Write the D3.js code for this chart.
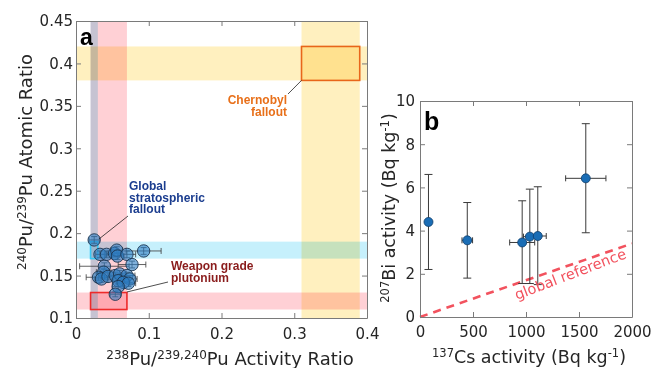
<!DOCTYPE html>
<html lang="en">
<head>
    <meta charset="UTF-8">
    <title>Pu ratios and Bi-207 activity</title>
    <style>
        body { margin: 0; background: #fff; }
        svg text { font-family: "DejaVu Sans", Verdana, sans-serif; fill: #262626; }
        .note { font-family: "Liberation Sans", Arial, sans-serif; font-weight: bold; font-size: 12px; }
        .band { mix-blend-mode: multiply; }
    </style>
</head>
<body>
    <script src="https://cdn.jsdelivr.net/npm/d3@7"></script>
    <script>
        // panel a: Pu isotope ratios of the samples
        const puActivity = [0.025, 0.033, 0.042, 0.053, 0.056, 0.057, 0.070, 0.093, 0.039, 0.077, 0.038, 0.031,
                            0.035, 0.044, 0.054, 0.060, 0.070, 0.074, 0.058, 0.065, 0.072, 0.058, 0.054];
        const puActivityErr = [0.007, 0.006, 0.009, 0.010, 0.008, 0.009, 0.012, 0.024, 0.034, 0.019, 0.010, 0.017,
                               0.009, 0.010, 0.010, 0.009, 0.011, 0.010, 0.008, 0.009, 0.010, 0.008, 0.007];
        const puAtomic = [0.192, 0.175, 0.175, 0.176, 0.180, 0.173, 0.175, 0.179, 0.161, 0.163, 0.154, 0.148,
                          0.146, 0.149, 0.150, 0.152, 0.150, 0.146, 0.144, 0.142, 0.141, 0.137, 0.128];
        const puAtomicErr = [0.004, 0.004, 0.004, 0.004, 0.004, 0.004, 0.004, 0.004, 0.004, 0.004, 0.004, 0.004,
                             0.004, 0.004, 0.004, 0.004, 0.004, 0.004, 0.004, 0.004, 0.004, 0.004, 0.003];

        // reference source ranges [min, max]
        const sourceNames = ["Global stratospheric fallout", "Weapon grade plutonium", "Chernobyl fallout"];
        const sourceActivity = [[0.02, 0.03], [0.02, 0.07], [0.31, 0.39]];
        const sourceAtomic = [[0.17, 0.19], [0.11, 0.13], [0.38, 0.42]];

        // panel b: 207Bi vs 137Cs
        const csActivity = [80, 446, 964, 1036, 1111, 1564];
        const csErr = [15, 50, 118, 60, 80, 190];
        const biActivity = [4.4, 3.55, 3.45, 3.72, 3.75, 6.42];
        const biLow = [2.2, 1.8, 1.55, 1.55, 1.5, 3.9];
        const biHigh = [6.6, 5.3, 5.38, 5.92, 6.03, 8.95];
        const globalRef = [[0, 0], [2000, 3.4]];

        const xTicksA = [0, 0.1, 0.2, 0.3, 0.4];
        const yTicksA = [0.1, 0.15, 0.2, 0.25, 0.3, 0.35, 0.4, 0.45];
        const xTicksB = [0, 500, 1000, 1500, 2000];
        const yTicksB = [0, 2, 4, 6, 8, 10];
    </script>
    <script>
        const width = 654, height = 368;
        const svg = d3.select("body").append("svg")
            .attr("width", width)
            .attr("height", height);

        const axisColor = "#7a7a7a";

        function boxAxes(g, x, y, xTicks, yTicks, xFmt, yFmt, xPad, yPad) {
            const [x0, x1] = x.range();
            const [y0, y1] = y.range();
            const style = a => a.call(s => s.select(".domain").attr("stroke", axisColor))
                .call(s => s.selectAll(".tick line").attr("stroke", axisColor))
                .call(s => s.selectAll(".tick text").attr("font-size", 15).attr("fill", "#262626")
                    .style("font-family", "'DejaVu Sans', Verdana, sans-serif"));
            g.append("g").attr("transform", `translate(0,${y0})`)
                .call(d3.axisBottom(x).tickValues(xTicks).tickFormat(xFmt).tickSizeInner(-5).tickSizeOuter(0).tickPadding(xPad))
                .call(style);
            g.append("g").attr("transform", `translate(0,${y1})`)
                .call(d3.axisTop(x).tickValues(xTicks).tickFormat("").tickSizeInner(-5).tickSizeOuter(0))
                .call(style);
            g.append("g").attr("transform", `translate(${x0},0)`)
                .call(d3.axisLeft(y).tickValues(yTicks).tickFormat(yFmt).tickSizeInner(-5).tickSizeOuter(0).tickPadding(yPad))
                .call(style);
            g.append("g").attr("transform", `translate(${x1},0)`)
                .call(d3.axisRight(y).tickValues(yTicks).tickFormat("").tickSizeInner(-5).tickSizeOuter(0))
                .call(style);
        }

        // text with superscript parts: parts = [[text, isSup], ...]
        function supText(parts, attrs, size, supSize) {
            const t = svg.append("text").attr("font-size", size);
            Object.entries(attrs).forEach(([k, v]) => t.attr(k, v));
            let shift = 0;
            parts.forEach(([s, sup]) => {
                const target = sup ? -6.5 : 0;
                t.append("tspan")
                    .attr("font-size", sup ? supSize : size)
                    .attr("dy", target - shift)
                    .text(s);
                shift = target;
            });
            return t;
        }

        // ---------- panel a ----------
        const xa = d3.scaleLinear().domain([0, 0.4]).range([76, 367]);
        const ya = d3.scaleLinear().domain([0.1, 0.45]).range([318, 21]);
        const ga = svg.append("g");

        const bandColors = ["#c6f0fc", "#ffd0d5", "#fff0bf"];
        const outlineColors = ["#36c8f5", "#ee2a2a", "#e8661a"];

        const bands = ga.append("g");
        sourceActivity.forEach((r, i) => {
            bands.append("rect").attr("class", "band")
                .attr("x", xa(r[0])).attr("width", xa(r[1]) - xa(r[0]))
                .attr("y", ya(0.45)).attr("height", ya(0.1) - ya(0.45))
                .attr("fill", bandColors[i]);
        });
        sourceAtomic.forEach((r, i) => {
            bands.append("rect").attr("class", "band")
                .attr("x", xa(0)).attr("width", xa(0.4) - xa(0))
                .attr("y", ya(r[1])).attr("height", ya(r[0]) - ya(r[1]))
                .attr("fill", bandColors[i]);
        });
        sourceNames.forEach((n, i) => {
            ga.append("rect")
                .attr("x", xa(sourceActivity[i][0])).attr("width", xa(sourceActivity[i][1]) - xa(sourceActivity[i][0]))
                .attr("y", ya(sourceAtomic[i][1])).attr("height", ya(sourceAtomic[i][0]) - ya(sourceAtomic[i][1]))
                .attr("fill", "none").attr("stroke", outlineColors[i]).attr("stroke-width", 1.6);
        });

        // error bars
        const errA = ga.append("g").attr("stroke", "#3a3a3a").attr("stroke-width", 0.8);
        puActivity.forEach((v, i) => {
            const cy = ya(puAtomic[i]);
            const xl = xa(v - puActivityErr[i]), xr = xa(v + puActivityErr[i]);
            errA.append("line").attr("x1", xl).attr("x2", xr).attr("y1", cy).attr("y2", cy);
            errA.append("line").attr("x1", xl).attr("x2", xl).attr("y1", cy - 3).attr("y2", cy + 3);
            errA.append("line").attr("x1", xr).attr("x2", xr).attr("y1", cy - 3).attr("y2", cy + 3);
            const cx = xa(v);
            const yt = ya(puAtomic[i] + puAtomicErr[i]), yb = ya(puAtomic[i] - puAtomicErr[i]);
            errA.append("line").attr("x1", cx).attr("x2", cx).attr("y1", yt).attr("y2", yb);
            errA.append("line").attr("x1", cx - 3).attr("x2", cx + 3).attr("y1", yt).attr("y2", yt);
            errA.append("line").attr("x1", cx - 3).attr("x2", cx + 3).attr("y1", yb).attr("y2", yb);
        });

        ga.append("g").selectAll("circle")
            .data(puActivity)
            .join("circle")
            .attr("cx", d => xa(d))
            .attr("cy", (d, i) => ya(puAtomic[i]))
            .attr("r", 6.2)
            .attr("fill", "rgba(45,125,195,0.6)")
            .attr("stroke", "#1d3550")
            .attr("stroke-width", 0.9);

        boxAxes(ga, xa, ya, xTicksA, yTicksA, d3.format("~g"), d3.format("~g"), 10, 3);

        // annotations
        const notes = ga.append("g");
        notes.append("line").attr("x1", 99).attr("y1", 239).attr("x2", 128).attr("y2", 216).attr("stroke", "#222").attr("stroke-width", 0.8);
        notes.append("line").attr("x1", xa(0.07)).attr("y1", 292).attr("x2", 168).attr("y2", 282).attr("stroke", "#222").attr("stroke-width", 0.8);
        notes.append("line").attr("x1", xa(0.31)).attr("y1", ya(0.38)).attr("x2", 288).attr("y2", 94).attr("stroke", "#222").attr("stroke-width", 0.8);

        function noteLines(lines, x, y, color, anchor) {
            lines.forEach((t, i) => notes.append("text").attr("class", "note")
                .attr("x", x).attr("y", y + i * 11.6)
                .attr("text-anchor", anchor)
                .style("fill", color).text(t));
        }
        noteLines(["Global", "stratospheric", "fallout"], 129, 190, "#1b3d8f", "start");
        noteLines(["Weapon grade", "plutonium"], 171, 270, "#8a1c1c", "start");
        noteLines(["Chernobyl", "fallout"], 287, 104, "#e8701a", "end");

        ga.append("text").attr("x", 80).attr("y", 45).attr("font-size", 23).attr("font-weight", "bold")
            .style("font-family", "'Liberation Sans', Arial, sans-serif").style("fill", "#000").text("a");

        supText([["238", 1], ["Pu/"], ["239,240", 1], ["Pu Activity Ratio"]],
            { "text-anchor": "middle", x: 230, y: 365 }, 18, 12);
        supText([["240", 1], ["Pu/"], ["239", 1], ["Pu Atomic Ratio"]],
            { "text-anchor": "middle", transform: "translate(32,162) rotate(-90)" }, 18, 12);

        // ---------- panel b ----------
        const xb = d3.scaleLinear().domain([0, 2000]).range([420, 632]);
        const yb = d3.scaleLinear().domain([0, 10]).range([317, 101]);
        const gb = svg.append("g");

        gb.append("line")
            .attr("x1", xb(globalRef[0][0])).attr("y1", yb(globalRef[0][1]))
            .attr("x2", xb(globalRef[1][0])).attr("y2", yb(globalRef[1][1]))
            .attr("stroke", "#f2525e").attr("stroke-width", 2.6).attr("stroke-dasharray", "8,6");

        const errB = gb.append("g").attr("stroke", "#3a3a3a").attr("stroke-width", 1);
        csActivity.forEach((v, i) => {
            const cx = xb(v), cy = yb(biActivity[i]);
            const yt = yb(biHigh[i]), ybt = yb(biLow[i]);
            errB.append("line").attr("x1", cx).attr("x2", cx).attr("y1", yt).attr("y2", ybt);
            errB.append("line").attr("x1", cx - 4).attr("x2", cx + 4).attr("y1", yt).attr("y2", yt);
            errB.append("line").attr("x1", cx - 4).attr("x2", cx + 4).attr("y1", ybt).attr("y2", ybt);
            const xl = xb(v - csErr[i]), xr = xb(v + csErr[i]);
            errB.append("line").attr("x1", xl).attr("x2", xr).attr("y1", cy).attr("y2", cy);
            errB.append("line").attr("x1", xl).attr("x2", xl).attr("y1", cy - 3).attr("y2", cy + 3);
            errB.append("line").attr("x1", xr).attr("x2", xr).attr("y1", cy - 3).attr("y2", cy + 3);
        });

        gb.append("g").selectAll("circle")
            .data(csActivity)
            .join("circle")
            .attr("cx", d => xb(d))
            .attr("cy", (d, i) => yb(biActivity[i]))
            .attr("r", 4.5)
            .attr("fill", "#1a6db5")
            .attr("stroke", "#0f3d6b")
            .attr("stroke-width", 0.8);

        boxAxes(gb, xb, yb, xTicksB, yTicksB, d3.format("d"), d3.format("d"), 9, 5);

        gb.append("text")
            .attr("transform", "translate(517,300) rotate(-21)")
            .attr("font-size", 14.5)
            .style("fill", "#f2525e")
            .text("global reference");

        gb.append("text").attr("x", 424).attr("y", 130).attr("font-size", 25).attr("font-weight", "bold")
            .style("font-family", "'Liberation Sans', Arial, sans-serif").style("fill", "#000").text("b");

        supText([["137", 1], ["Cs activity (Bq kg"], ["-1", 1], [")"]],
            { "text-anchor": "middle", x: 529, y: 363 }, 17.5, 11.5);
        supText([["207", 1], ["Bi activity (Bq kg"], ["-1", 1], [")"]],
            { "text-anchor": "middle", transform: "translate(395,208) rotate(-90)" }, 17.5, 11.5);
    </script>
</body>
</html>
